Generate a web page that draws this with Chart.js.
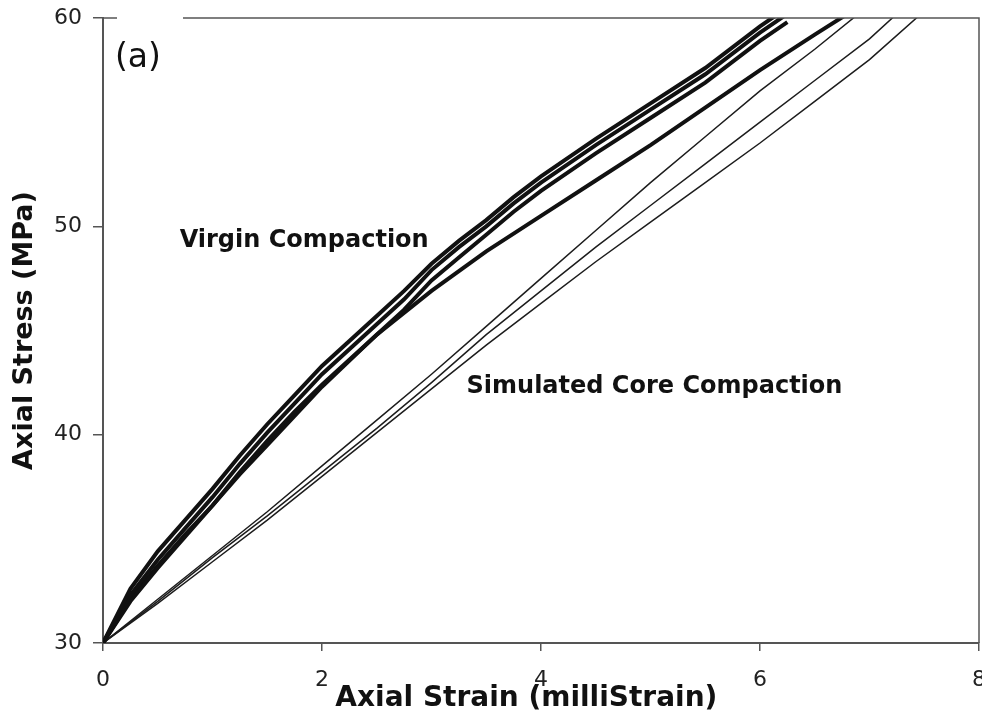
<!DOCTYPE html>
<html>
<head>
<meta charset="utf-8">
<script src="https://cdn.jsdelivr.net/npm/chart.js@4.4.1/dist/chart.umd.min.js"></script>
<style>
  html, body { margin: 0; padding: 0; background: #fff; }
</style>
</head>
<body>
<canvas id="grafico" width="982" height="716"></canvas>
<script>
// Virgin compaction runs (thick lines)
const strainVirgin = [0, 0.25, 0.5, 0.75, 1.0, 1.25, 1.5, 1.75, 2.0, 2.25, 2.5, 2.75, 3.0, 3.25, 3.5, 3.75, 4.0, 4.5, 5.0, 5.5, 6.0, 6.25];
const stressVirginA = [30, 32.6, 34.4, 35.9, 37.4, 39.0, 40.5, 41.9, 43.3, 44.5, 45.7, 46.9, 48.2, 49.3, 50.3, 51.4, 52.4, 54.2, 55.9, 57.6, 59.6, 60.5];
const stressVirginB = [30, 32.3, 34.0, 35.5, 37.0, 38.6, 40.1, 41.5, 42.9, 44.1, 45.3, 46.5, 47.9, 49.0, 50.0, 51.1, 52.1, 53.9, 55.6, 57.3, 59.3, 60.2];
const stressVirginC = [30, 32.0, 33.6, 35.1, 36.6, 38.2, 39.7, 41.1, 42.4, 43.6, 44.8, 46.0, 47.4, 48.5, 49.6, 50.7, 51.7, 53.5, 55.2, 56.9, 58.9, 59.8];
const strainVirginD = [0, 0.25, 0.5, 0.75, 1.0, 1.25, 1.5, 1.75, 2.0, 2.5, 3.0, 3.5, 4.0, 4.5, 5.0, 5.5, 6.0, 6.5, 6.8];
const stressVirginD = [30, 32.1, 33.7, 35.2, 36.6, 38.1, 39.5, 40.9, 42.3, 44.8, 46.9, 48.8, 50.5, 52.2, 53.9, 55.7, 57.5, 59.2, 60.2];

// Simulated core compaction runs (thin lines)
const strainCore1 = [0, 0.5, 1.0, 1.5, 2.0, 2.5, 3.0, 3.5, 4.0, 4.5, 5.0, 5.5, 6.0, 6.5, 6.9];
const stressCore1 = [30, 32.1, 34.2, 36.3, 38.5, 40.7, 42.9, 45.2, 47.5, 49.8, 52.1, 54.3, 56.5, 58.5, 60.2];
const strainCore2 = [0, 0.5, 1.0, 1.5, 2.0, 2.5, 3.0, 3.5, 4.0, 4.5, 5.0, 5.5, 6.0, 6.5, 7.0, 7.25];
const stressCore2 = [30, 32.0, 34.1, 36.1, 38.2, 40.3, 42.5, 44.8, 46.9, 49.0, 51.0, 53.0, 55.0, 57.0, 59.0, 60.2];
const strainCore3 = [0, 0.5, 1.0, 1.5, 2.0, 2.5, 3.0, 3.5, 4.0, 4.5, 5.0, 5.5, 6.0, 6.5, 7.0, 7.45];
const stressCore3 = [30, 31.9, 33.9, 35.9, 38.0, 40.1, 42.2, 44.3, 46.3, 48.3, 50.2, 52.1, 54.0, 56.0, 58.0, 60.1];

const xTicks = [0, 2, 4, 6, 8];
const yTicks = [30, 40, 50, 60];

function puntos(xs, ys) {
  return xs.map((x, i) => ({ x: x, y: ys[i] }));
}

function curva(xs, ys, grueso) {
  return {
    data: puntos(xs, ys),
    borderColor: grueso ? '#111' : '#1c1c1c',
    borderWidth: grueso ? 4 : 1.5,
    pointRadius: 0,
    tension: 0,
    fill: false
  };
}

// frame, panel letter and curve labels
const anotaciones = {
  id: 'anotaciones',
  afterDraw(chart) {
    const { ctx, chartArea: a, scales } = chart;
    ctx.save();
    ctx.strokeStyle = '#555';
    ctx.lineWidth = 1.5;
    ctx.beginPath();
    ctx.moveTo(a.left, a.top);
    ctx.lineTo(a.right, a.top);
    ctx.lineTo(a.right, a.bottom);
    ctx.stroke();

    ctx.fillStyle = '#fff';
    ctx.fillRect(a.left + 14, a.top - 4, 66, 8);
    ctx.fillStyle = '#111';
    ctx.textAlign = 'left';
    ctx.textBaseline = 'middle';
    ctx.font = '33px "DejaVu Sans"';
    ctx.fillText('(a)', a.left + 12, a.top + 40);

    ctx.font = 'bold 24px "DejaVu Sans"';
    ctx.fillText('Virgin Compaction', scales.x.getPixelForValue(0.70), scales.y.getPixelForValue(49.3));
    ctx.fillText('Simulated Core Compaction', scales.x.getPixelForValue(3.32), scales.y.getPixelForValue(42.3));
    ctx.restore();
  }
};

new Chart(document.getElementById('grafico'), {
  type: 'line',
  data: {
    datasets: [
      curva(strainVirgin, stressVirginA, true),
      curva(strainVirgin, stressVirginB, true),
      curva(strainVirgin, stressVirginC, true),
      curva(strainVirginD, stressVirginD, true),
      curva(strainCore1, stressCore1, false),
      curva(strainCore2, stressCore2, false),
      curva(strainCore3, stressCore3, false)
    ]
  },
  options: {
    responsive: false,
    animation: false,
    layout: { padding: { top: 18, right: 3, left: 0, bottom: 0 } },
    plugins: {
      legend: { display: false },
      tooltip: { enabled: false }
    },
    scales: {
      x: {
        type: 'linear',
        min: 0,
        max: 8,
        afterBuildTicks: (s) => { s.ticks = xTicks.map(v => ({ value: v })); },
        afterFit: (s) => { s.height = 73; s.paddingLeft = 0; s.paddingRight = 0; },
        ticks: { font: { family: 'DejaVu Sans', size: 22 }, color: '#222', padding: 16, maxRotation: 0 },
        grid: { drawOnChartArea: false, tickLength: 8, color: '#555', lineWidth: 1.5 },
        border: { color: '#555', width: 2 },
        title: {
          display: true,
          text: 'Axial Strain (milliStrain)   ',
          font: { family: 'DejaVu Sans', size: 28, weight: 'bold' },
          color: '#111',
          padding: { top: 0, bottom: 0 }
        }
      },
      y: {
        type: 'linear',
        min: 30,
        max: 60,
        afterBuildTicks: (s) => { s.ticks = yTicks.map(v => ({ value: v })); },
        afterFit: (s) => { s.width = 103; s.paddingTop = 0; s.paddingBottom = 0; },
        ticks: { font: { family: 'DejaVu Sans', size: 22 }, color: '#222', padding: 11 },
        grid: { drawOnChartArea: false, tickLength: 10, color: '#555', lineWidth: 1.5 },
        border: { color: '#555', width: 2 },
        title: {
          display: true,
          text: 'Axial Stress (MPa)',
          font: { family: 'DejaVu Sans', size: 27, weight: 'bold' },
          color: '#111',
          padding: { top: 9, bottom: 0 }
        }
      }
    }
  },
  plugins: [anotaciones]
});
</script>
</body>
</html>
